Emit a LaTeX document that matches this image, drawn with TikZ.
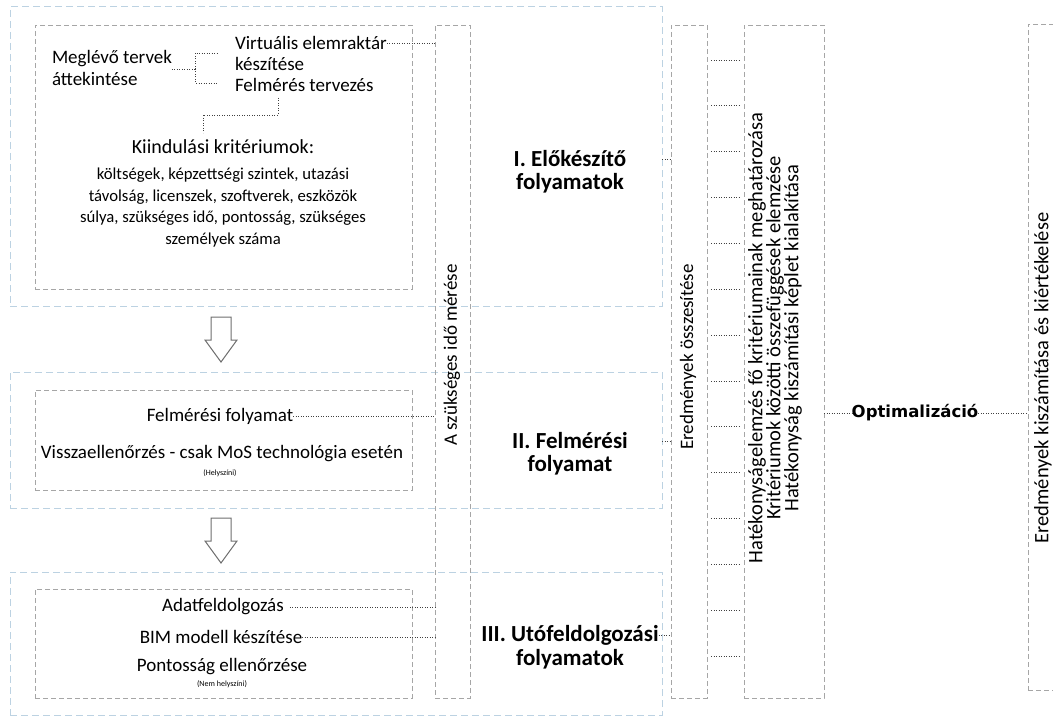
\documentclass[tikz,border=0pt]{standalone}
\usepackage{fontspec}
\setmainfont{Carlito}
\newfontfamily\optfont{DejaVu Sans}
\usetikzlibrary{fit,calc}
\definecolor{gry}{HTML}{A6A6A6}
\definecolor{lblue}{HTML}{BCD2E2}
\definecolor{dotc}{HTML}{404040}
\definecolor{arrc}{HTML}{6E6E6E}
\tikzset{
  gbox/.style={draw=gry, dash pattern=on 5pt off 3pt, line width=0.9pt, inner sep=0pt, outer sep=0pt},
  bbox/.style={draw=lblue, dash pattern=on 7pt off 4pt, line width=1pt, inner sep=0pt, outer sep=0pt},
  dotl/.style={draw=dotc, line width=0.9pt, dash pattern=on 0.8pt off 1.7pt},
  txt/.style={font=\fontsize{19}{22}\selectfont, inner sep=0pt, outer sep=0pt},
  crit/.style={font=\fontsize{16.7}{21.7}\selectfont, inner sep=0pt, align=center},
  ttl/.style={font=\fontsize{23}{25}\selectfont\bfseries, inner sep=0pt, outer sep=0pt},
  tiny/.style={font=\fontsize{8}{9}\selectfont, inner sep=0pt},
  rot/.style={font=\fontsize{19}{22}\selectfont, inner sep=0pt, rotate=90, align=center},
  harrow/.style={draw=arrc, line width=1pt, fill=white, line join=miter}
}
\begin{document}
\begin{tikzpicture}[x=1pt,y=-1pt]
\useasboundingbox (0,0) rectangle (1053,717);
\clip (0,0) rectangle (1053,717);
% section containers
\node[bbox, fit={(10,7) (662,306)}] (S1) {};
\node[bbox, fit={(10,372) (662,508)}] (S2) {};
\node[bbox, fit={(10,572) (662,715)}] (S3) {};
% inner boxes
\node[gbox, fit={(35,25) (412,289)}] (B1) {};
\node[gbox, fit={(35,390) (412,490)}] (B2) {};
\node[gbox, fit={(35,589) (412,698)}] (B3) {};
\node[gbox, fit={(435,25) (470,698)}] (T) {};
\node[gbox, fit={(671,25) (707,698)}] (E) {};
\node[gbox, fit={(744,25) (824,698)}] (H) {};
\node[gbox, fit={(1028,24) (1080,690)}] (R) {};

% section I content
\node[txt, anchor=west, align=left] (meg) at (52,68) {Meglévő tervek\\áttekintése};
\node[txt, anchor=west] (virt1) at (235,43) {Virtuális elemraktár};
\node[txt, anchor=west] (virt2) at (235,64) {készítése};
\node[txt, anchor=west] (felm) at (235,85) {Felmérés tervezés};
\coordinate (j1) at (195,69);
\coordinate (j1t) at (218,53);
\coordinate (j1b) at (218,83);
\draw[dotl] (meg.east |- j1) -- (j1);
\draw[dotl] (j1) |- (j1t);
\draw[dotl] (j1) |- (j1b);
\draw[dotl] (virt1.east) -- (virt1.east -| T.west);
\node[txt, font=\fontsize{20}{22}\selectfont] (kiind) at (223,147) {Kiindulási kritériumok:};
\coordinate (k1) at (278,98);
\coordinate (k2) at (203,133);
\draw[dotl] (k1) -- (278,115) -| (k2);
\node[crit] (krit) at (223,207.5) {költségek, képzettségi szintek, utazási\\távolság, licenszek, szoftverek, eszközök\\súlya, szükséges idő, pontosság, szükséges\\személyek száma};

% section II content
\node[txt] (felmf) at (220,416) {Felmérési folyamat};
\draw[dotl] (felmf.east) -- (felmf.east -| T.west);
\node[txt] (vissza) at (222,454) {Visszaellenőrzés - csak MoS technológia esetén};
\node[tiny] (hely) at (220,473) {(Helyszíni)};

% section III content
\node[txt] (adat) at (223,607) {Adatfeldolgozás};
\draw[dotl] ($(adat.east)+(6,0)$) -- (adat.east -| T.west);
\node[txt] (bim) at (221,637) {BIM modell készítése};
\draw[dotl] (bim.east) -- (bim.east -| T.west);
\node[txt] (pont) at (222,667) {Pontosság ellenőrzése};
\node[tiny] (nemh) at (222,684) {(Nem helyszíni)};

% titles
\node[ttl] (t1a) at (570,159) {I. Előkészítő};
\node[ttl] (t1b) at (570,183) {folyamatok};
\node[ttl] (t2a) at (570,441) {II. Felmérési};
\node[ttl] (t2b) at (570,465) {folyamat};
\node[ttl] (t3a) at (570,635) {III. Utófeldolgozási};
\node[ttl] (t3b) at (570,659) {folyamatok};
\draw[dotl] (S1.east |- t1a) -- (E.west |- t1a);
\draw[dotl] (S2.east |- t2a) -- (E.west |- t2a);
\draw[dotl] (t3a.east) -- (E.west |- t3a);

% rotated texts
\node[rot] (Tt) at (452,355) {A szükséges idő mérése};
\node[rot] (Et) at (688,357) {Eredmények összesítése};
\node[rot, font=\fontsize{20.5}{18}\selectfont] (Ht) at (775,338) {Hatékonyságelemzés fő kritériumainak meghatározása\\Kritériumok közötti összefüggések elemzése\\Hatékonyság kiszámítási képlet kialakítása};
\node[rot, font=\fontsize{20.5}{22}\selectfont] (Rt) at (1043,378) {Eredmények kiszámítása és kiértékelése};

% E -> H dotted links
\foreach \i in {0,...,13}{
  \draw[dotl] ($(E.east |- 0,{60+45.85*\i})+(4,0)$) -- ($(H.west |- 0,{60+45.85*\i})+(-5,0)$);
}

% optimisation
\node[font=\fontsize{16.5}{19}\selectfont\optfont\bfseries, inner sep=0pt] (opt) at (915,413) {Optimalizáció};
\draw[dotl] (H.east |- opt) -- (opt.west);
\draw[dotl] (opt.east) -- (R.west |- opt);

% hollow arrows
\coordinate (a1) at (221,317);
\coordinate (a2) at (221,518);
\foreach \c in {a1,a2}{
  \draw[harrow] ($(\c)+(-10,0)$) -- ($(\c)+(10,0)$) -- ($(\c)+(10,23)$) -- ($(\c)+(16,23)$)
    -- ($(\c)+(0,45)$) -- ($(\c)+(-16,23)$) -- ($(\c)+(-10,23)$) -- cycle;
}
\end{tikzpicture}
\end{document}
